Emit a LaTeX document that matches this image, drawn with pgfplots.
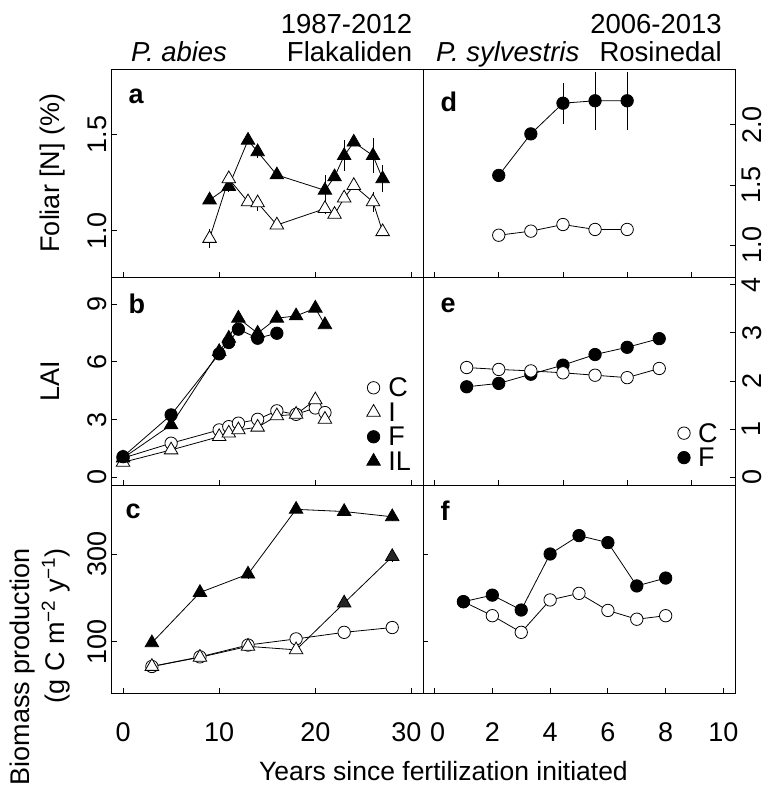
\documentclass[border=0pt]{standalone}
\usepackage{fontspec}
\setmainfont{Liberation Sans}
\usepackage{pgfplots}
\pgfplotsset{compat=1.18}

\newcommand{\fs}{\fontsize{27}{31}\selectfont}
\newcommand{\ft}{\fontsize{27.5}{31}\selectfont}

\pgfplotsset{
  panel/.style={
    scale only axis, anchor=south west, width=311.5pt, height=208pt,
    axis line style={line width=0.9pt},
    tick align=inside, major tick length=5pt,
    every tick/.append style={line width=0.9pt, black},
    xtick pos=left,
    /pgf/number format/assume math mode=true,
    tick label style={font=\fs},
    legend style={font=\fs, draw=none, fill=none},
  },
  lpanel/.style={panel, xmin=-1.2, xmax=31.2, xtick={0,10,20,30},
    ytick pos=left, yticklabel style={rotate=90, anchor=south, inner sep=5pt}},
  rpanel/.style={panel, width=312pt, xmin=-0.36, xmax=9.36, xtick={0,2,4,6,8},
    ytick pos=right, yticklabel style={rotate=90, anchor=north, inner sep=7pt}},
  eb/.style={error bars/y dir=both, error bars/y explicit, error bars/error mark=none,
    error bars/error bar style={line width=0.8pt, black}},
  C/.style={black, line width=0.8pt, mark=*, mark size=6.2pt,
    mark options={fill=white, solid, line width=0.8pt}},
  F/.style={black, line width=0.8pt, mark=*, mark size=6.2pt,
    mark options={fill=black, solid, line width=0.8pt}},
  I/.style={black, line width=0.8pt, mark=triangle*, mark size=7.8pt,
    mark options={fill=white, solid, line width=0.8pt}},
  IL/.style={black, line width=0.8pt, mark=triangle*, mark size=7.8pt,
    mark options={fill=black, solid, line width=0.8pt}},
  leg/.style={legend style={at={#1}, anchor=north west, inner sep=0pt,
    nodes={inner sep=3pt, text height=18pt, text depth=0pt},
    row sep=0.5pt, column sep=5pt}, legend cell align=left},
}

\begin{document}
\begin{tikzpicture}[font=\fs]
\path[use as bounding box] (0,0) rectangle (768pt,-787pt);

% ---------- a: foliar N, Flakaliden
\begin{axis}[lpanel, at={(111.5pt,-277pt)}, ymin=0.76, ymax=1.84,
  ytick={1.0,1.5}, yticklabels={1.0,1.5}, xticklabels={}]
\addplot[IL, eb] coordinates {
(9,1.16) (11,1.23) +- (0,0.03) (13,1.47) (14,1.41) +- (0,0.03) (16,1.29)
(21,1.21) +- (0,0.08) (22,1.28) (23,1.39) +- (0,0.08) (24,1.46)
(26,1.39) +- (0,0.09) (27,1.27) +- (0,0.07)};
\addplot[I, eb] coordinates {
(9,0.96) +- (0,0.05) (11,1.27) (13,1.15) (14,1.145) +- (0,0.04) (16,1.03)
(21,1.115) +- (0,0.03) (22,1.085) (23,1.17) (24,1.235) (26,1.15) +- (0,0.05)
(27,0.995)};
\end{axis}

% ---------- b: LAI, Flakaliden
\begin{axis}[lpanel, at={(111.5pt,-485pt)}, ymin=-0.4, ymax=10.4,
  ytick={0,3,6,9}, xticklabels={}, leg={(0.819,0.526)}]
\addplot[C, eb, forget plot] coordinates {
(0,1.0) (5,1.77) (10,2.46) (11,2.63) (12,2.81) (14,3.01) (16,3.45) +- (0,0.25)
(18,3.27) (20,3.6) (21,3.36)};
\addplot[I, eb, forget plot] coordinates {
(0,0.78) (5,1.42) (10,2.11) (11,2.29) (12,2.46) (14,2.6) (16,3.19) (18,3.27)
(20,4.02) +- (0,0.2) (21,3.01)};
\addplot[F, eb, forget plot] coordinates {
(0,1.07) (5,3.24) (10,6.41) (11,7.0) +- (0,0.2) (12,7.69) (14,7.22) (16,7.48)};
\addplot[IL, eb, forget plot] coordinates {
(0,1.0) (5,2.72) (10,6.53) (11,7.22) (12,8.26) (14,7.48) (16,8.26)
(18,8.38) +- (0,0.2) (20,8.78) +- (0,0.2) (21,7.92)};
\addlegendimage{C, only marks}\addlegendentry{C}
\addlegendimage{I, only marks}\addlegendentry{I}
\addlegendimage{F, only marks}\addlegendentry{F}
\addlegendimage{IL, only marks}\addlegendentry{IL}
\end{axis}

% ---------- c: biomass production, Flakaliden
\begin{axis}[lpanel, at={(111.5pt,-693pt)}, ymin=-17.6, ymax=457.6,
  ytick={100,300}, xticklabels={0,10,20,30\hspace*{10pt}},
  xticklabel style={anchor=base, yshift=-48pt}]
\addplot[C, eb] coordinates {
(3,43) (8,65) (13,92) (18,106) (23,121) (28,132)};
\addplot[IL, mark options={fill=black!85, draw=black}, mark indices={2,3}, eb] coordinates {
(18,81) (23,188) (28,294) +- (0,12)};
\addplot[I, eb] coordinates {
(3,43) (8,64) (13,89) (18,81)};
\addplot[IL, eb] coordinates {
(3,97) (8,212) (13,254) +- (0,10) (18,402) (23,397) (28,385) +- (0,10)};
\end{axis}

% ---------- d: foliar N, Rosinedal
\begin{axis}[rpanel, at={(423pt,-277pt)}, ymin=0.736, ymax=2.464,
  ytick={1.0,1.5,2.0}, yticklabels={1.0,1.5,2.0}, xticklabels={}]
\addplot[F, eb] coordinates {
(2,1.58) (3,1.925) +- (0,0.03) (4,2.18) +- (0,0.17) (5,2.20) +- (0,0.24)
(6,2.20) +- (0,0.24)};
\addplot[C, eb] coordinates {
(2,1.083) (3,1.117) (4,1.172) (5,1.131) (6,1.131)};
\end{axis}

% ---------- e: LAI, Rosinedal
\begin{axis}[rpanel, at={(423pt,-485pt)}, ymin=-0.16, ymax=4.16,
  ytick={0,1,2,3,4}, xticklabels={}, leg={(0.816,0.308)}]
\addplot[F, forget plot] coordinates {
(1,1.88) (2,1.95) (3,2.14) (4,2.33) (5,2.55) (6,2.70) (7,2.88)};
\addplot[C, forget plot] coordinates {
(1,2.28) (2,2.24) (3,2.21) (4,2.17) (5,2.12) (6,2.07) (7,2.26)};
\addlegendimage{C, only marks}\addlegendentry{C}
\addlegendimage{F, only marks}\addlegendentry{F}
\end{axis}

% ---------- f: biomass production, Rosinedal
\begin{axis}[panel, width=312pt, at={(423pt,-693pt)}, xmin=-0.4, xmax=10.4,
  xtick={0,2,4,6,8,10}, ymin=-17.6, ymax=457.6, ytick={100,300},
  ytick pos=left, yticklabels={},
  xticklabels={\hspace*{6pt}0,2,4,6,8,10},
  xticklabel style={anchor=base, yshift=-48pt}]
\addplot[C, eb] coordinates {
(1,191) (2,159) (3,121) (4,195) (5,210) +- (0,8) (6,171) +- (0,10)
(7,151) +- (0,10) (8,159)};
\addplot[F, eb] coordinates {
(1,191) (2,206) (3,172) (4,300) (5,342) +- (0,12) (6,326) (7,227) (8,245)};
\end{axis}

% ---------- panel letters
\node[anchor=base west, font=\fs\bfseries] at (125pt,-103pt) {a};
\node[anchor=base west, font=\fs\bfseries] at (125pt,-313pt) {b};
\node[anchor=base west, font=\fs\bfseries] at (122pt,-518pt) {c};
\node[anchor=base west, font=\fs\bfseries] at (437pt,-111pt) {d};
\node[anchor=base west, font=\fs\bfseries] at (437pt,-312pt) {e};
\node[anchor=base west, font=\fs\bfseries] at (437pt,-520pt) {f};

% ---------- column titles
\begin{scope}[font=\ft, inner sep=0pt]
\node[anchor=base east] at (412.5pt,-33.3pt) {1987-2012};
\node[anchor=base east] at (412.5pt,-61.7pt) {Flakaliden};
\node[anchor=base west] at (131pt,-61.7pt) {\itshape P. abies};
\node[anchor=base east] at (722pt,-33.3pt) {2006-2013};
\node[anchor=base east] at (722pt,-61.7pt) {Rosinedal};
\node[anchor=base west] at (436pt,-61.7pt) {\itshape P. sylvestris};
\end{scope}

% ---------- axis labels
\node[rotate=90, anchor=base, inner sep=0pt] at (59pt,-173pt) {Foliar [N] (\%)};
\node[rotate=90, anchor=base, inner sep=0pt] at (59pt,-381pt) {LAI};
\node[rotate=90, anchor=base east, inner sep=0pt] at (29pt,-548pt) {Biomass production};
\node[rotate=90, anchor=base east, inner sep=0pt] at (64pt,-548pt)
  {(g C m\textsuperscript{\char"2212 2} y\textsuperscript{\char"2212 1})};
\node[anchor=base east, inner sep=0pt, font=\fontsize{26.5}{30}\selectfont]
  at (628pt,-780.5pt) {Years since fertilization initiated};
\end{tikzpicture}
\end{document}
